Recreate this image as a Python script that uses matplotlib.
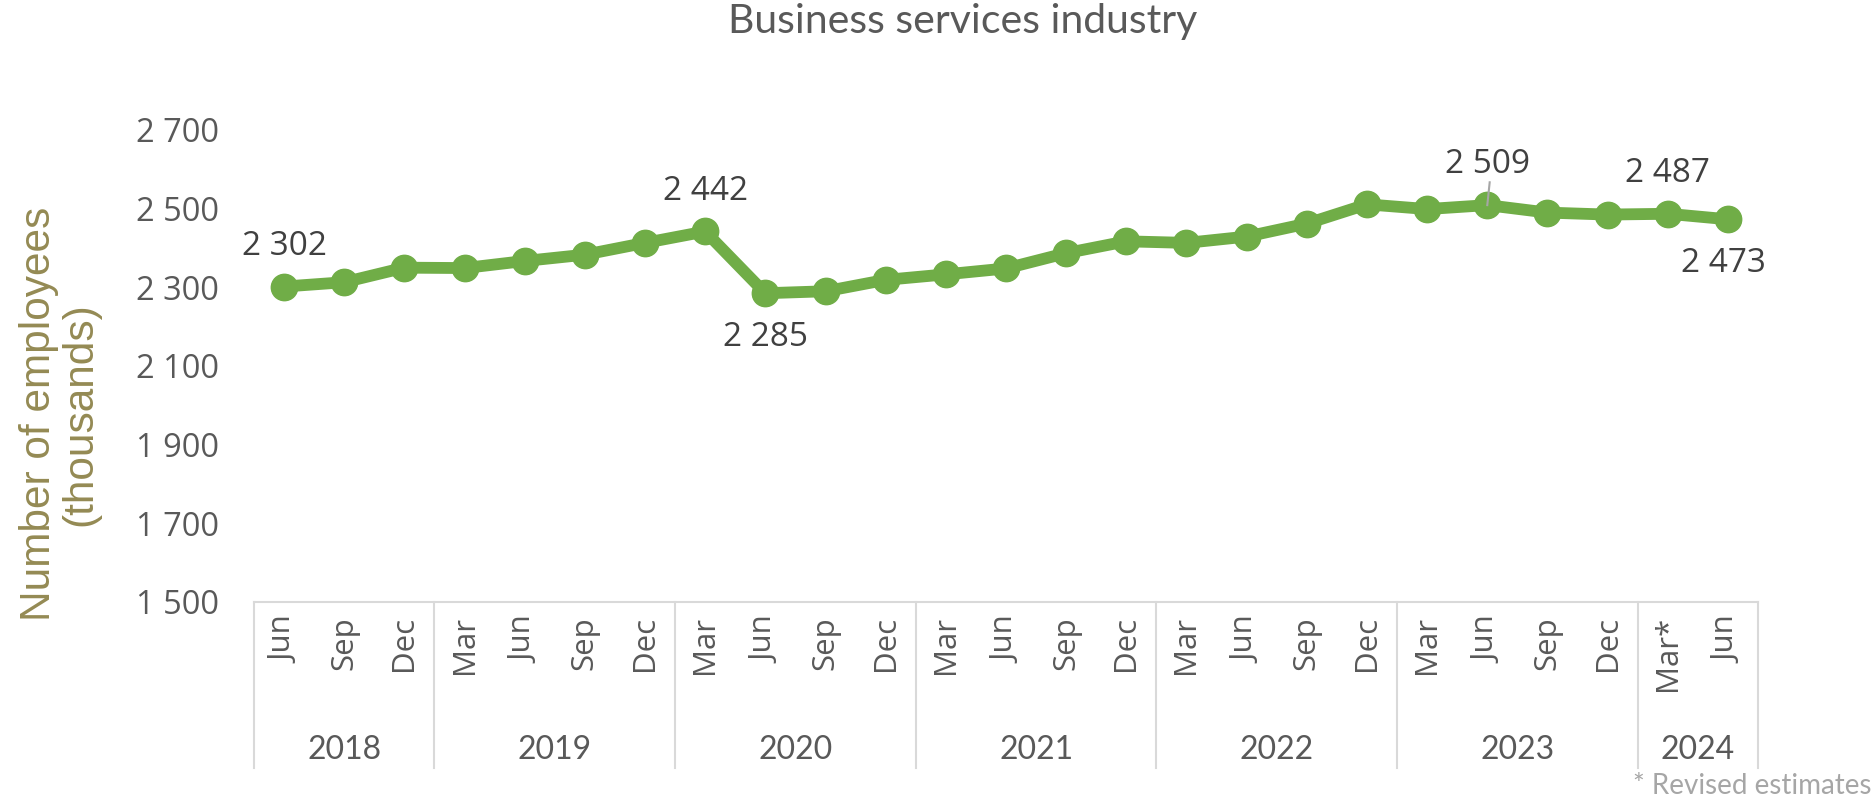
import matplotlib
matplotlib.use("Agg")
import matplotlib.pyplot as plt
from matplotlib.ticker import FuncFormatter
from matplotlib.transforms import blended_transform_factory
from matplotlib.lines import Line2D

# ---- data ----
months = ["Jun", "Sep", "Dec",
          "Mar", "Jun", "Sep", "Dec",
          "Mar", "Jun", "Sep", "Dec",
          "Mar", "Jun", "Sep", "Dec",
          "Mar", "Jun", "Sep", "Dec",
          "Mar", "Jun", "Sep", "Dec",
          "Mar*", "Jun"]
years = ["2018", "2019", "2020", "2021", "2022", "2023", "2024"]
year_counts = [3, 4, 4, 4, 4, 4, 2]
employees = [2302, 2313, 2350, 2349, 2367, 2383, 2413,
             2442, 2285, 2290, 2319, 2333, 2348, 2387, 2417,
             2413, 2429, 2462, 2511, 2499, 2509, 2490, 2485, 2487, 2473]
# labelled points: index -> position ('above' / 'below')
labelled = {0: "above", 7: "above", 8: "below", 20: "above", 23: "above", 24: "below"}

W, H = 1874, 797
fig = plt.figure(figsize=(W / 100, H / 100), dpi=100)
ax_left, ax_right, ax_top, ax_bottom = 254, 1758, 130, 602
ax = fig.add_axes([ax_left / W, 1 - ax_bottom / H,
                   (ax_right - ax_left) / W, (ax_bottom - ax_top) / H])

green = "#70AD47"
x = list(range(len(employees)))
ax.plot(x, employees, color=green, linewidth=8.5, marker="o", markersize=19,
        solid_capstyle="round", clip_on=False, zorder=3)

ax.set_xlim(-0.5, len(employees) - 0.5)
ax.set_ylim(1500, 2700)
ax.set_yticks([1500, 1700, 1900, 2100, 2300, 2500, 2700])
fmt = lambda v: f"{int(v):,}".replace(",", " ")
ax.yaxis.set_major_formatter(FuncFormatter(lambda v, p: fmt(v)))

for s in ["top", "right", "left"]:
    ax.spines[s].set_visible(False)
ax.spines["bottom"].set_color("#D9D9D9")
ax.spines["bottom"].set_linewidth(1.5)

ax.tick_params(axis="y", length=0, pad=25, labelsize=23.5, labelcolor="#595959")
for t in ax.get_yticklabels():
    t.set_fontfamily("Open Sans")

ax.set_xticks(x)
ax.set_xticklabels(months, rotation=90, fontsize=22.5, color="#595959",
                   fontfamily="Open Sans", va="top", ha="center")
ax.tick_params(axis="x", length=0, pad=10)

# data labels
for i, pos in labelled.items():
    v = employees[i]
    dy = 29 if pos == "above" else -32
    dx = -3 if i == len(employees) - 1 else 0
    ax.annotate(fmt(v), (i, v), xytext=(dx, dy), textcoords="offset points",
                ha="center", va="center", fontsize=24, color="#404040",
                fontfamily="Open Sans", zorder=5)
# leader line for 2 509
ax.plot([20, 20.04], [employees[20], employees[20] + 58], color="#A6A6A6",
        lw=1.5, zorder=4, clip_on=False)

# year grouping
trans = blended_transform_factory(ax.transData, fig.transFigure)
y_top = 1 - ax_bottom / H
y_bot = 1 - 768 / H
start = -0.5
bounds = [start]
for c in year_counts:
    start += c
    bounds.append(start)
for b in bounds:
    fig.add_artist(Line2D([b, b], [y_top, y_bot], transform=trans,
                          color="#D9D9D9", linewidth=1.5))
for yr, a, b in zip(years, bounds[:-1], bounds[1:]):
    fig.text((a + b) / 2, 1 - 750 / H, yr, transform=trans, ha="center",
             va="center", fontsize=23, color="#595959", fontfamily="Lato")

# title
fig.text(963 / W, 1 - 22 / H, "Business services industry", ha="center", va="center",
         fontsize=29.5, color="#595959", fontfamily="Lato")

# y axis label
fig.text(60 / W, 1 - 414 / H, "Number of employees\n(thousands)", rotation=90,
         ha="center", va="center", fontsize=30.5, color="#948A54",
         fontfamily="Liberation Sans", linespacing=1.05)

# footnote
fig.text(1872 / W, 1 - 786 / H, "* Revised estimates", ha="right", va="center",
         fontsize=20, color="#A6A6A6", fontfamily="Lato")

fig.savefig("out.png", dpi=100)
